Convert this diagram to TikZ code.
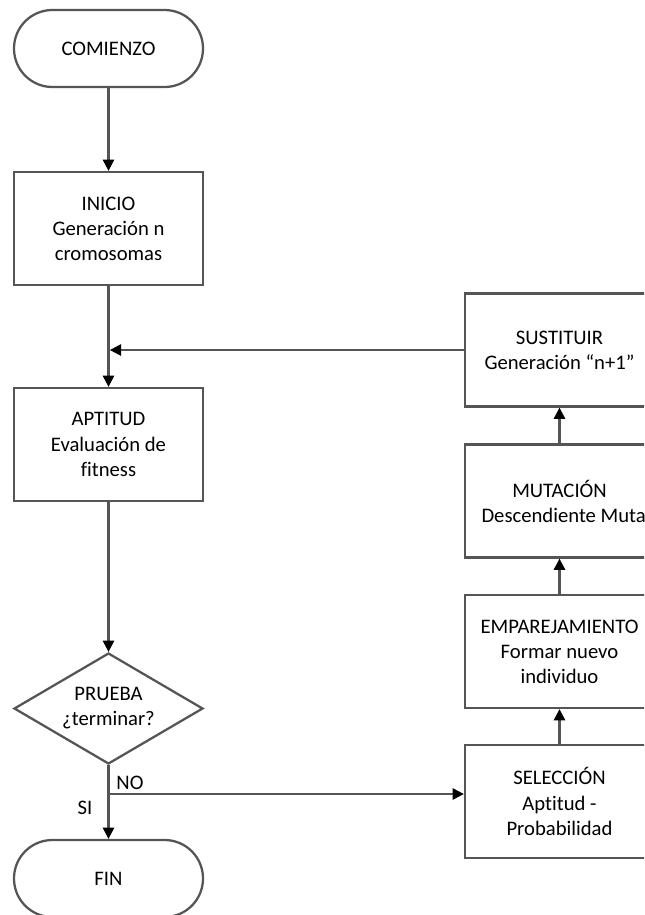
\documentclass[tikz,border=0pt]{standalone}
\usepackage{fontspec}
\setmainfont{Carlito}[Ligatures=NoCommon]
\usetikzlibrary{arrows.meta,shapes.geometric}
\definecolor{edge}{HTML}{555555}
\begin{document}
\begin{tikzpicture}[x=0.75pt,y=-0.75pt,
  font=\fontsize{15.5}{18.8}\selectfont,
  every node/.style={text=black},
  base/.style={draw=edge,line width=1.7pt,fill=white,align=center,inner sep=0pt},
  procbox/.style={base,rectangle,minimum width=141.75pt,minimum height=84.75pt},
  terminal/.style={base,rectangle,rounded corners=28.8pt,minimum width=141.75pt,minimum height=57.75pt},
  decision/.style={base,diamond,aspect=1.7,minimum width=141.75pt,minimum height=83.25pt},
  flow/.style={draw=edge,line width=1.6pt,-{Triangle[width=8.5pt,length=8.5pt,color=black]}},
  tag/.style={inner sep=0pt}]
\useasboundingbox (0,0) rectangle (644,915);
\clip (0,0) rectangle (644,915);

% left column
\node[terminal] (comienzo) at (108.5,48.5) {COMIENZO};
\node[procbox] (inicio) at (108.5,228.5) {INICIO\\Generación n\\cromosomas};
\node[procbox] (aptitud) at (108.5,444.5) {APTITUD\\Evaluación de\\fitness};
\node[decision] (prueba) at (108.5,708.5) {PRUEBA\\¿terminar?};
\node[terminal] (fin) at (108.5,878.5) {FIN};

% right column
\node[procbox] (sustituir) at (559.5,350) {SUSTITUIR\\Generación “n+1”};
\node[procbox] (mutacion) at (559.5,501) {MUTACIÓN\\\makebox[117pt][l]{Descendiente Mutación}};
\node[procbox] (empareja) at (559.5,651.5) {EMPAREJAMIENTO\\Formar nuevo\\individuo};
\node[procbox] (seleccion) at (559.5,801.5) {SELECCIÓN\\Aptitud -\\Probabilidad};

% junction points on the main trunk
\coordinate (merge) at (108.5,350);
\coordinate (split) at (108.5,794);

% main flow
\draw[flow] (comienzo) -- (inicio);
\draw[flow] (inicio) -- (aptitud);
\draw[flow] (aptitud) -- (prueba);
\draw[flow] (prueba) -- (fin);

% loop back
\draw[flow] (split) -- (split -| seleccion.west);
\draw[flow] (seleccion) -- (empareja);
\draw[flow] (empareja) -- (mutacion);
\draw[flow] (mutacion) -- (sustituir);
\draw[flow] (sustituir.west) -- ([xshift=1pt]merge);

% branch labels
\node[tag] (no) at (130,783) {NO};
\node[tag] (si) at (85,808) {SI};
\end{tikzpicture}
\end{document}
